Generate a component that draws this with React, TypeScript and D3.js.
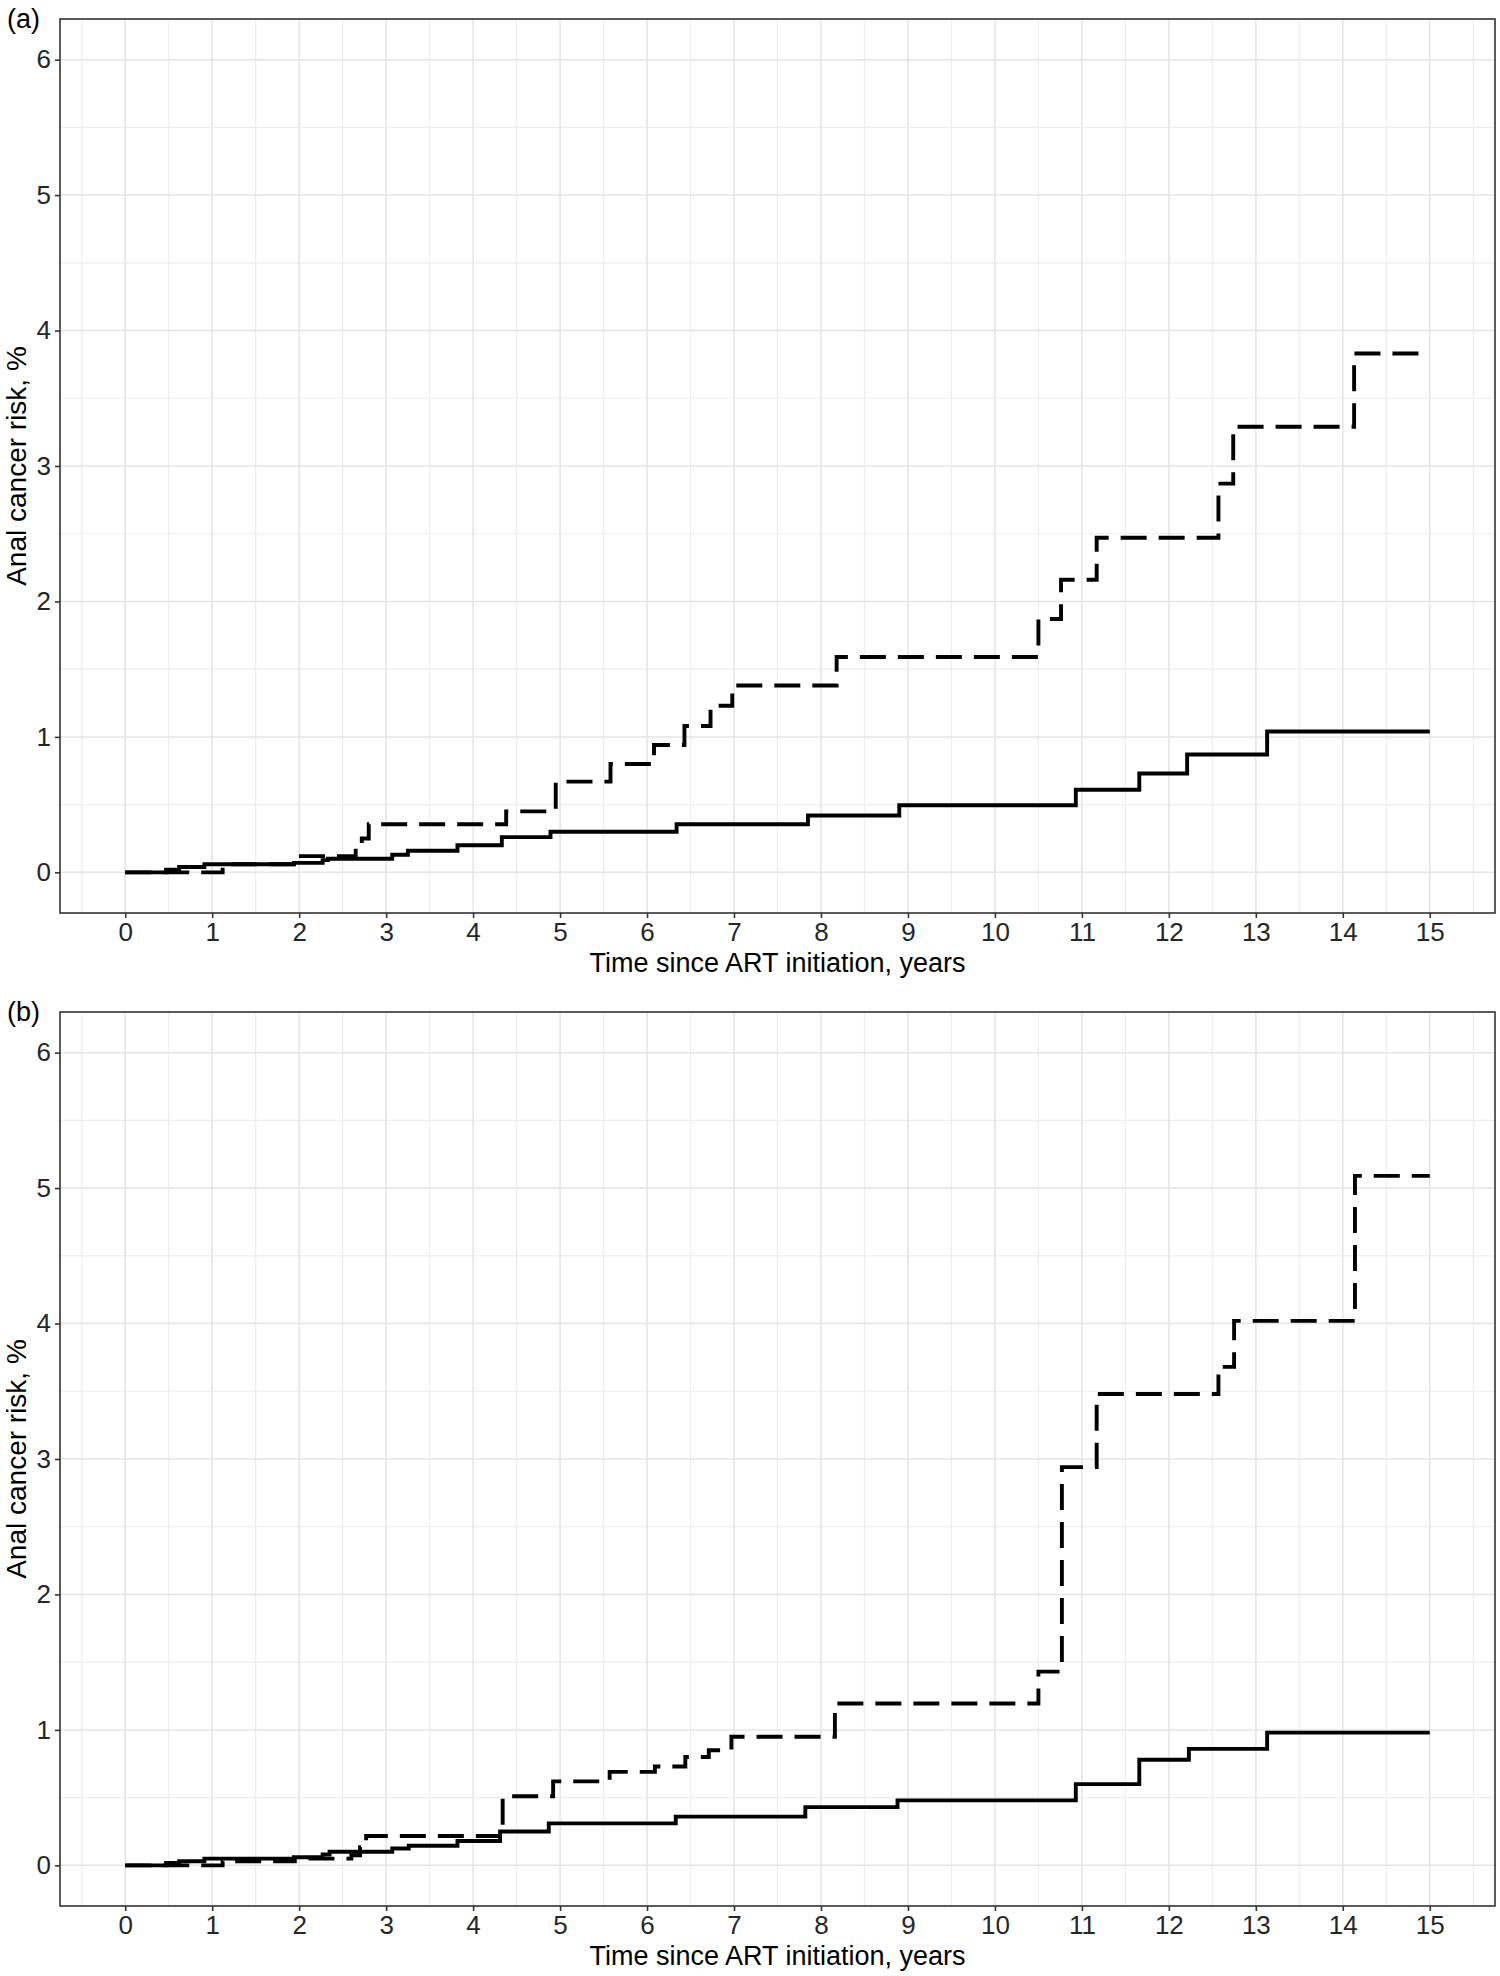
import { useEffect, useRef } from 'react';
import * as d3 from 'd3';

// panel (a): cumulative risk steps, solid and dashed group
const timeASolid = [0, 0.47, 0.62, 0.91, 1.94, 2.27, 2.33, 3.07, 3.25, 3.82, 4.33, 4.89, 6.34, 7.85, 8.9, 10.93, 11.66, 12.21, 13.13, 15];
const riskASolid = [0, 0.02, 0.04, 0.06, 0.07, 0.09, 0.1, 0.13, 0.16, 0.2, 0.26, 0.3, 0.355, 0.42, 0.495, 0.61, 0.73, 0.87, 1.04, 1.04];
const timeADashed = [0, 1.12, 1.99, 2.65, 2.72, 2.8, 4.38, 4.95, 5.58, 6.08, 6.43, 6.73, 6.98, 8.18, 10.5, 10.76, 11.17, 12.57, 12.74, 14.13, 15];
const riskADashed = [0, 0.06, 0.12, 0.18, 0.25, 0.355, 0.45, 0.67, 0.8, 0.94, 1.08, 1.23, 1.38, 1.59, 1.87, 2.16, 2.47, 2.87, 3.29, 3.83, 3.83];

// panel (b)
const timeBSolid = [0, 0.47, 0.62, 0.91, 1.94, 2.27, 2.35, 3.07, 3.26, 3.82, 4.31, 4.87, 6.33, 7.82, 8.88, 10.93, 11.66, 12.23, 13.13, 15];
const riskBSolid = [0, 0.017, 0.03, 0.05, 0.06, 0.08, 0.1, 0.125, 0.145, 0.18, 0.25, 0.31, 0.36, 0.43, 0.48, 0.6, 0.78, 0.86, 0.98, 0.98];
const timeBDashed = [0, 1.12, 1.95, 2.6, 2.7, 2.77, 4.34, 4.92, 5.57, 6.09, 6.44, 6.71, 6.97, 8.16, 10.5, 10.77, 11.17, 12.57, 12.75, 14.14, 15];
const riskBDashed = [0, 0.03, 0.05, 0.075, 0.135, 0.217, 0.51, 0.62, 0.69, 0.73, 0.8, 0.85, 0.95, 1.195, 1.43, 2.94, 3.48, 3.68, 4.02, 5.09, 5.09];

const xTicks = [0, 1, 2, 3, 4, 5, 6, 7, 8, 9, 10, 11, 12, 13, 14, 15];
const yTicks = [0, 1, 2, 3, 4, 5, 6];
const panelTags = ['(a)', '(b)'];
const xTitle = 'Time since ART initiation, years';
const yTitle = 'Anal cancer risk, %';

const FONT = '"Liberation Sans", Arial, Helvetica, sans-serif';
const W = 1500;
const H = 1976;

type Pt = [number, number];

const zip = (t: number[], v: number[]): Pt[] => t.map((d, i) => [d, v[i]]);

const Chart = () => {
  const svgRef = useRef<SVGSVGElement>(null);

  useEffect(() => {
    if (!svgRef.current) return;
    const svg = d3.select(svgRef.current);
    svg.selectAll('*').remove();

    const left = 60;
    const right = 1495;
    const panelH = 894;

    const drawPanel = (top: number, tag: string, solid: Pt[], dashed: Pt[]) => {
      const bottom = top + panelH;
      const x = d3.scaleLinear().domain([-0.75, 15.75]).range([left, right]);
      const y = d3.scaleLinear().domain([-0.3, 6.3]).range([bottom, top]);
      const g = svg.append('g');

      // minor grid
      const xMinor = d3.range(-0.5, 16, 1);
      const yMinor = d3.range(0.5, 6, 1);
      g.selectAll('.vminor').data(xMinor).enter().append('line')
        .attr('x1', d => x(d)).attr('x2', d => x(d))
        .attr('y1', top).attr('y2', bottom)
        .attr('stroke', '#ededed').attr('stroke-width', 1.2);
      g.selectAll('.hminor').data(yMinor).enter().append('line')
        .attr('x1', left).attr('x2', right)
        .attr('y1', d => y(d)).attr('y2', d => y(d))
        .attr('stroke', '#ededed').attr('stroke-width', 1.2);

      // major grid
      g.selectAll('.vmajor').data(xTicks).enter().append('line')
        .attr('x1', d => x(d)).attr('x2', d => x(d))
        .attr('y1', top).attr('y2', bottom)
        .attr('stroke', '#e4e4e4').attr('stroke-width', 1.5);
      g.selectAll('.hmajor').data(yTicks).enter().append('line')
        .attr('x1', left).attr('x2', right)
        .attr('y1', d => y(d)).attr('y2', d => y(d))
        .attr('stroke', '#e4e4e4').attr('stroke-width', 1.5);

      const line = d3.line<Pt>()
        .x(d => x(d[0]))
        .y(d => y(d[1]))
        .curve(d3.curveStepAfter);

      g.append('path')
        .datum(dashed)
        .attr('fill', 'none')
        .attr('stroke', '#000')
        .attr('stroke-width', 3.9)
        .attr('stroke-dasharray', '26 12')
        .attr('d', line);

      g.append('path')
        .datum(solid)
        .attr('fill', 'none')
        .attr('stroke', '#000')
        .attr('stroke-width', 3.9)
        .attr('d', line);

      // panel border
      g.append('rect')
        .attr('x', left).attr('y', top)
        .attr('width', right - left).attr('height', panelH)
        .attr('fill', 'none')
        .attr('stroke', '#333')
        .attr('stroke-width', 1.6);

      // axes
      const xAxis = d3.axisBottom(x).tickValues(xTicks).tickSize(5).tickPadding(5).tickFormat(d3.format('d'));
      const yAxis = d3.axisLeft(y).tickValues(yTicks).tickSize(5).tickPadding(4).tickFormat(d3.format('d'));

      const gx = g.append('g').attr('transform', `translate(0,${bottom})`).call(xAxis);
      const gy = g.append('g').attr('transform', `translate(${left},0)`).call(yAxis);
      [gx, gy].forEach(a => {
        a.select('.domain').remove();
        a.selectAll('line').attr('stroke', '#333').attr('stroke-width', 1.6);
        a.selectAll('text')
          .attr('fill', '#262626')
          .style('font-family', FONT)
          .style('font-size', '26px');
      });

      // axis titles
      g.append('text')
        .attr('x', (left + right) / 2)
        .attr('y', bottom + 59)
        .attr('text-anchor', 'middle')
        .attr('fill', '#000')
        .style('font-family', FONT)
        .style('font-size', '27px')
        .text(xTitle);

      g.append('text')
        .attr('transform', `translate(26,${(top + bottom) / 2}) rotate(-90)`)
        .attr('text-anchor', 'middle')
        .attr('fill', '#000')
        .style('font-family', FONT)
        .style('font-size', '28px')
        .text(yTitle);

      // panel tag
      g.append('text')
        .attr('x', 7)
        .attr('y', top + 9)
        .attr('fill', '#000')
        .style('font-family', FONT)
        .style('font-size', '27px')
        .text(tag);
    };

    drawPanel(19, panelTags[0], zip(timeASolid, riskASolid), zip(timeADashed, riskADashed));
    drawPanel(1012, panelTags[1], zip(timeBSolid, riskBSolid), zip(timeBDashed, riskBDashed));
  }, []);

  return (
    <svg
      ref={svgRef}
      width={W}
      height={H}
      style={{ position: 'absolute', left: 0, top: 0, background: '#fff' }}
    />
  );
};

export default function App() {
  return <Chart />;
}
